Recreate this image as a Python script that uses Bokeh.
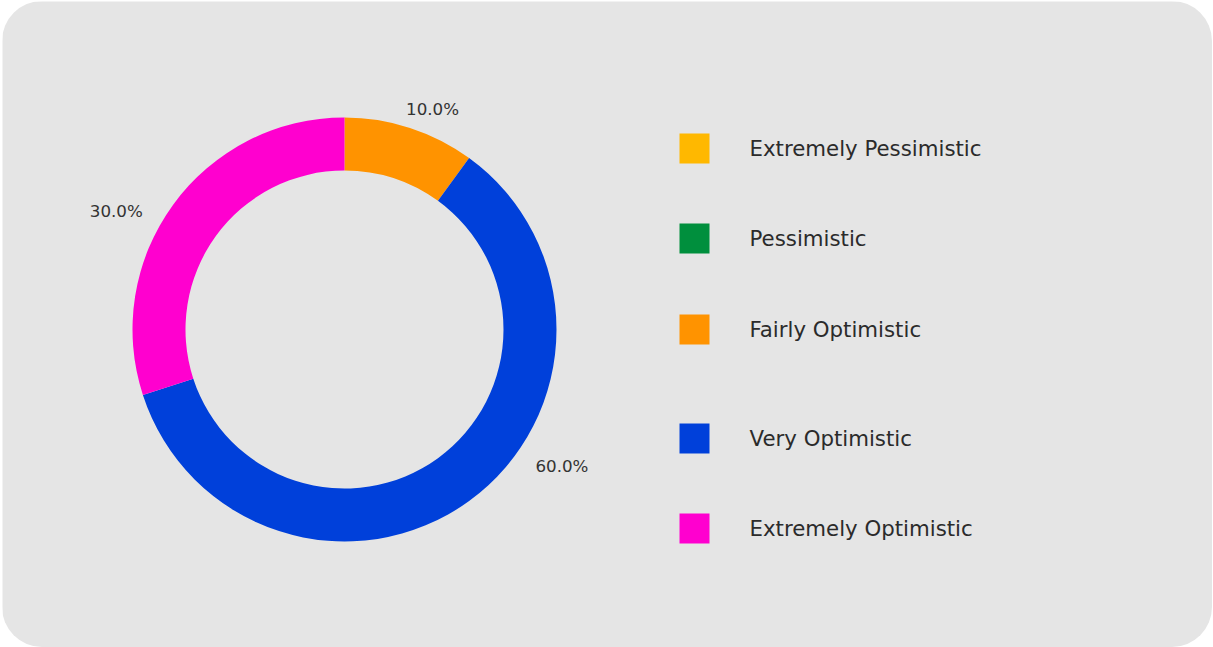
import math
from bokeh.plotting import figure
from bokeh.models import Range1d, ColumnDataSource
from bokeh.core.properties import value
from bokeh.embed import file_html
from bokeh.resources import INLINE

# ---- data ----
categories = ["Extremely Pessimistic", "Pessimistic", "Fairly Optimistic",
              "Very Optimistic", "Extremely Optimistic"]
values = [0, 0, 10, 60, 30]
colors = ["#FFB800", "#008F3D", "#FF9300", "#0040DA", "#FF00CF"]

# ---- layout / style ----
WIN_H = 647
W, H = 1210, 646
OX, OY = 2, 1            # screen position of the card
CX, CY = 344, 329        # donut centre (screen px)
R_OUT, R_IN = 212, 159
label_angle_shift = [0, 0, -3.8, 21.8, 8.6]   # degrees, nudges of outside labels
label_radius = [0, 0, 237, 257, 257]
legend_screen_y = [148, 238, 329, 438, 528]
LEG_SQ_X, LEG_TXT_X, SQ = 694, 749, 30
FONT = "DejaVu Sans"


def ydata(sy):
    return WIN_H - sy


p = figure(width=W, height=H,
           x_range=Range1d(OX, OX + W),
           y_range=Range1d(WIN_H - (OY + H), WIN_H - OY),
           output_backend="svg", toolbar_location=None, min_border=0)
p.axis.visible = False
p.grid.visible = False
p.outline_line_color = None
p.background_fill_color = "#e5e5e5"
p.border_fill_color = "#e5e5e5"
p.styles = {"margin": f"{OY}px 0px 0px {OX}px",
            "border-radius": "40px", "overflow": "hidden"}

# ---- donut ----
total = float(sum(values))
starts, ends, wcols, lx, ly, ltxt = [], [], [], [], [], []
cum = 0.0
cy_d = ydata(CY)
for i, v in enumerate(values):
    f0 = cum / total
    cum += v
    f1 = cum / total
    if v <= 0:
        continue
    a0 = math.pi / 2 - 2 * math.pi * f0
    a1 = math.pi / 2 - 2 * math.pi * f1
    starts.append(a0)
    ends.append(a1)
    wcols.append(colors[i])
    mid = (a0 + a1) / 2 + math.radians(label_angle_shift[i])
    lx.append(CX + label_radius[i] * math.cos(mid))
    ly.append(cy_d + label_radius[i] * math.sin(mid))
    ltxt.append(f"{100 * v / total:.1f}%")

src = ColumnDataSource(dict(x=[CX] * len(starts), y=[cy_d] * len(starts),
                            s=starts, e=ends, c=wcols))
p.annular_wedge(x="x", y="y", inner_radius=R_IN, outer_radius=R_OUT,
                start_angle="s", end_angle="e", direction="clock",
                fill_color="c", line_color=None, source=src)

p.text(x=lx, y=ly, text=ltxt, text_align="center", text_baseline="middle",
       text_font=value(FONT), text_font_size="16.7px", text_color="#333333")

# ---- legend ----
leg_y = [ydata(v) for v in legend_screen_y]
p.rect(x=[LEG_SQ_X] * len(categories), y=leg_y, width=SQ, height=SQ,
       fill_color=colors, line_color=None)
p.text(x=[LEG_TXT_X] * len(categories), y=leg_y, text=categories,
       text_align="left", text_baseline="middle",
       text_font=value(FONT), text_font_size="21.3px", text_color="#2b2b2b")

open("out.html", "w").write(file_html(p, INLINE))
